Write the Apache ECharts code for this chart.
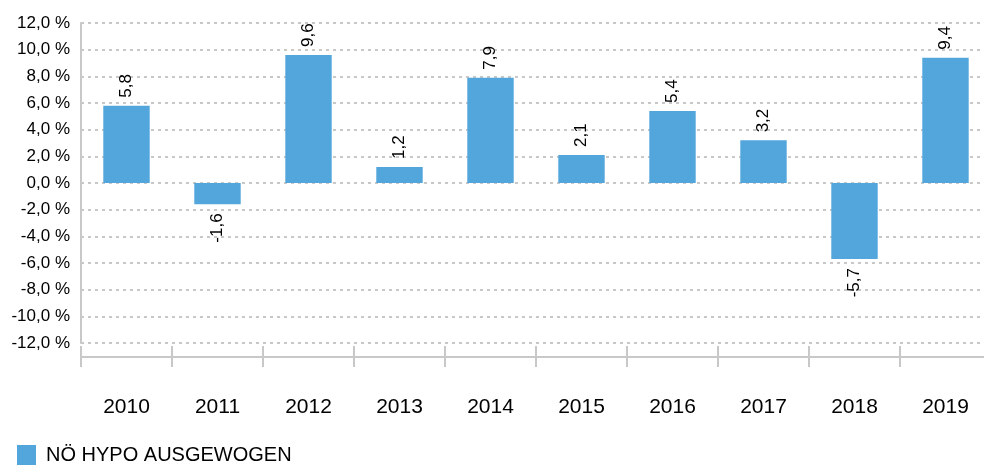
<!DOCTYPE html>
<html>
<head>
<meta charset="utf-8">
<script src="https://cdn.jsdelivr.net/npm/echarts@6/dist/echarts.min.js"></script>
<style>
  html, body { margin: 0; padding: 0; background: #fff; overflow: hidden; }
  /* the plot runs slightly past the right edge of the window */
  #chart { width: 996px; height: 465px; }
</style>
</head>
<body>
<div id="chart"></div>
<script>
// Annual performance, NÖ HYPO AUSGEWOGEN
const years = ['2010', '2011', '2012', '2013', '2014', '2015', '2016', '2017', '2018', '2019'];
const returns = [5.8, -1.6, 9.6, 1.2, 7.9, 2.1, 5.4, 3.2, -5.7, 9.4];
const seriesName = 'NÖ HYPO AUSGEWOGEN';
const yMin = -12, yMax = 12, yStep = 2;

const FONT = 'Liberation Sans, Arial, sans-serif';
const BAR = '#52A6DC';
const AXIS = '#c8c8c8';

const fmtComma = (v, d) => (d == null ? String(v) : v.toFixed(d)).replace('.', ',');

const labelUp = {
  show: true, position: 'top', rotate: 90, align: 'left', verticalAlign: 'middle',
  distance: 8, color: '#000', fontSize: 17, fontFamily: FONT
};
const labelDown = {
  show: true, position: 'bottom', rotate: 90, align: 'right', verticalAlign: 'middle',
  distance: 9, color: '#000', fontSize: 17, fontFamily: FONT
};

const barData = returns.map(v => ({ value: v, label: v < 0 ? labelDown : labelUp }));

const chart = echarts.init(document.getElementById('chart'), null, { renderer: 'canvas' });
chart.setOption({
  animation: false,
  backgroundColor: '#fff',
  grid: { left: 81, width: 910, top: 23, bottom: 122, containLabel: false },
  legend: {
    left: 17, top: 445, padding: 0,
    itemWidth: 19, itemHeight: 20, icon: 'rect',
    textStyle: { fontSize: 20, fontFamily: FONT, color: '#000', padding: [0, 0, 0, 5] },
    data: [seriesName]
  },
  xAxis: [
    {
      type: 'category', data: years, position: 'bottom', offset: 14,
      axisLine: { show: true, onZero: false, lineStyle: { color: AXIS, width: 2 } },
      axisTick: { show: true, length: 10, lineStyle: { color: AXIS, width: 2 } },
      axisLabel: { margin: 40, fontSize: 21, fontFamily: FONT, color: '#000' },
      splitLine: { show: false }
    },
    {
      type: 'category', data: years, position: 'bottom', offset: 14,
      axisLine: { show: false, onZero: false },
      axisTick: { show: true, inside: true, length: 11, lineStyle: { color: AXIS, width: 2 } },
      axisLabel: { show: false },
      splitLine: { show: false }
    }
  ],
  yAxis: {
    type: 'value', min: yMin, max: yMax, interval: yStep,
    axisLine: { show: true, lineStyle: { color: AXIS, width: 2 } },
    axisTick: { show: false },
    axisLabel: {
      margin: 11, fontSize: 17, fontFamily: FONT, color: '#000',
      formatter: v => fmtComma(v, 1) + ' %'
    },
    splitLine: {
      show: true,
      lineStyle: { color: AXIS, width: 2, type: [3, 4] }
    }
  },
  series: [{
    name: seriesName,
    type: 'bar',
    xAxisIndex: 0,
    data: barData,
    barWidth: '51%',
    itemStyle: { color: BAR },
    label: { formatter: p => fmtComma(p.value) }
  }]
});
</script>
</body>
</html>
